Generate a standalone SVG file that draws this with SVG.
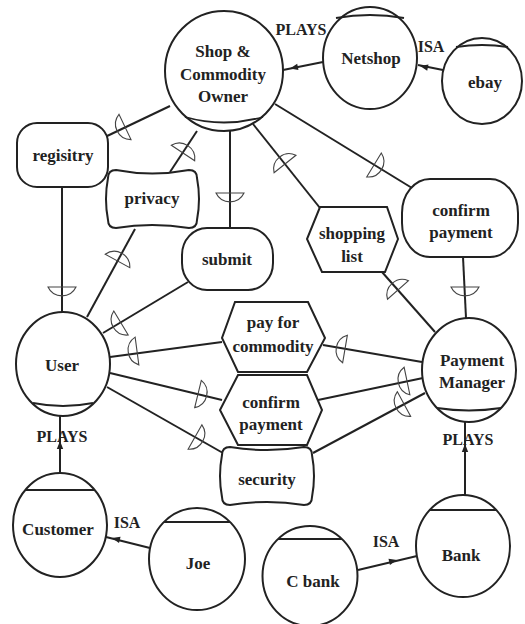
<svg xmlns="http://www.w3.org/2000/svg" xmlns:xlink="http://www.w3.org/1999/xlink" width="525" height="624" viewBox="0 0 525 624">
<style>
.s{fill:#fff;stroke:#222;stroke-width:2}
.ch{fill:none;stroke:#222;stroke-width:1.8}
.e{fill:none;stroke:#222;stroke-width:2}
.t{font-family:"Liberation Serif","Times New Roman",serif;font-weight:bold;font-size:17px;fill:#222;text-anchor:middle}
.l{font-family:"Liberation Serif","Times New Roman",serif;font-weight:bold;font-size:16px;fill:#222;text-anchor:middle}
.mk{fill:none;stroke:#444;stroke-width:1.1}
.ah{fill:#222;stroke:none}
</style>
<defs>
<path id="m" class="mk" d="M0,-14 A15.5,15.5 0 0 0 0,14 Z"/>
<path id="a" class="ah" d="M0,0 L-8,-3.2 L-8,3.2 Z"/>
</defs>
<rect width="525" height="624" fill="#fff"/>
<g id="connectors">
<line class="e" x1="323" y1="62" x2="283" y2="70"/>
<line class="e" x1="443" y1="70" x2="418" y2="65"/>
<line class="e" x1="170" y1="106" x2="105" y2="137"/>
<line class="e" x1="62" y1="187" x2="62" y2="312"/>
<line class="e" x1="197" y1="131" x2="170" y2="172"/>
<line class="e" x1="135" y1="229" x2="87" y2="317"/>
<line class="e" x1="230" y1="131" x2="230" y2="228"/>
<line class="e" x1="188" y1="282" x2="103" y2="333"/>
<line class="e" x1="253" y1="124" x2="320" y2="208"/>
<line class="e" x1="382" y1="272" x2="435" y2="332"/>
<line class="e" x1="275" y1="104" x2="412" y2="188"/>
<line class="e" x1="463" y1="257" x2="466" y2="318"/>
<line class="e" x1="110" y1="357" x2="222" y2="342"/>
<line class="e" x1="323" y1="345" x2="422" y2="362"/>
<line class="e" x1="110" y1="373" x2="222" y2="400"/>
<line class="e" x1="318" y1="400" x2="423" y2="378"/>
<line class="e" x1="107" y1="387" x2="230" y2="457"/>
<line class="e" x1="313" y1="453" x2="425" y2="393"/>
<line class="e" x1="60" y1="473" x2="60" y2="416"/>
<line class="e" x1="150" y1="548" x2="106" y2="537"/>
<line class="e" x1="358" y1="570" x2="417" y2="556"/>
<line class="e" x1="465" y1="495" x2="465" y2="422"/>
<use href="#a" transform="translate(290,68.5) rotate(168.7)"/>
<use href="#a" transform="translate(420,66) rotate(191.3)"/>
<use href="#a" transform="translate(60,441) rotate(-90)"/>
<use href="#a" transform="translate(112,538) rotate(194)"/>
<use href="#a" transform="translate(397,560) rotate(-13.3)"/>
<use href="#a" transform="translate(465,444) rotate(-90)"/>
<use href="#m" transform="translate(125,127) rotate(-25.5)"/>
<use href="#m" transform="translate(62,287) rotate(-90)"/>
<use href="#m" transform="translate(183,153) rotate(123.4)"/>
<use href="#m" transform="translate(117.5,261) rotate(118.6)"/>
<use href="#m" transform="translate(230,193) rotate(-90)"/>
<use href="#m" transform="translate(121,323) rotate(-31)"/>
<use href="#m" transform="translate(285,164) rotate(51.4)"/>
<use href="#m" transform="translate(398,290) rotate(48.5)"/>
<use href="#m" transform="translate(374,165) rotate(-148.5)"/>
<use href="#m" transform="translate(465,287) rotate(-90)"/>
<use href="#m" transform="translate(137,351) rotate(-7.6)"/>
<use href="#m" transform="translate(345,349) rotate(9.7)"/>
<use href="#m" transform="translate(198,394) rotate(-166.4)"/>
<use href="#m" transform="translate(407,381) rotate(-11.8)"/>
<use href="#m" transform="translate(195,437) rotate(-150.4)"/>
<use href="#m" transform="translate(404,404) rotate(-28.2)"/>
<text class="l" x="301" y="35">PLAYS</text>
<text class="l" x="431" y="52">ISA</text>
<text class="l" x="62" y="442">PLAYS</text>
<text class="l" x="127" y="528">ISA</text>
<text class="l" x="386" y="547">ISA</text>
<text class="l" x="468" y="445">PLAYS</text>
</g>
<g id="shop">
<ellipse class="s" cx="224" cy="71" rx="59" ry="60"/>
<path class="ch" d="M185,117 Q224,128 263,117"/>
<text class="t" x="223" y="57">Shop &amp;</text>
<text class="t" x="223" y="80">Commodity</text>
<text class="t" x="223" y="102">Owner</text>
</g>
<g id="netshop">
<ellipse class="s" cx="370" cy="58" rx="47" ry="51"/>
<path class="ch" d="M336,18 Q370,12 404,18"/>
<text class="t" x="371" y="64">Netshop</text>
</g>
<g id="ebay">
<ellipse class="s" cx="482" cy="81" rx="40" ry="43"/>
<path class="ch" d="M456,47 Q482,43 508,47"/>
<text class="t" x="485" y="88">ebay</text>
</g>
<g id="registry">
<rect class="s" x="17" y="123" width="91" height="64" rx="20" ry="20"/>
<text class="t" x="63" y="161">regisitry</text>
</g>
<g id="privacy">
<path class="s" d="M116,170 Q152,177 189,170 Q197,170 197,178 Q201,199 197,220 Q197,228 189,228 Q152,222 116,228 Q108,228 108,220 Q104,199 108,178 Q108,170 116,170 Z"/>
<text class="t" x="152" y="204">privacy</text>
</g>
<g id="submit">
<rect class="s" x="182" y="228" width="91" height="62" rx="25" ry="27"/>
<text class="t" x="227" y="265">submit</text>
</g>
<g id="shopping-list">
<path class="s" d="M320,207 L387,207 L398,239 L385,272 L322,272 L307,239 Z"/>
<text class="t" x="352" y="239">shopping</text>
<text class="t" x="352" y="262">list</text>
</g>
<g id="confirm-payment-top">
<rect class="s" x="402" y="179" width="116" height="78" rx="28" ry="34"/>
<text class="t" x="461" y="216">confirm</text>
<text class="t" x="461" y="238">payment</text>
</g>
<g id="user">
<ellipse class="s" cx="63" cy="364" rx="47" ry="52"/>
<path class="ch" d="M33,403 Q63,409 93,403"/>
<text class="t" x="62" y="371">User</text>
</g>
<g id="payment-manager">
<ellipse class="s" cx="469" cy="370" rx="47" ry="52"/>
<path class="ch" d="M437,408 Q469,413 501,408"/>
<text class="t" x="472" y="366">Payment</text>
<text class="t" x="472" y="388">Manager</text>
</g>
<g id="pay-for-commodity">
<path class="s" d="M235,302 L308,302 L325,338 L307,372 L238,372 L222,338 Z"/>
<text class="t" x="273" y="328">pay for</text>
<text class="t" x="273" y="352">commodity</text>
</g>
<g id="confirm-payment-mid">
<path class="s" d="M238,375 L307,375 L322,410 L307,445 L238,445 L220,410 Z"/>
<text class="t" x="271" y="408">confirm</text>
<text class="t" x="271" y="430">payment</text>
</g>
<g id="security">
<path class="s" d="M230,447 Q267,453 304,447 Q312,447 312,455 Q316,476 312,497 Q312,505 304,505 Q267,499 230,505 Q222,505 222,497 Q218,476 222,455 Q222,447 230,447 Z"/>
<text class="t" x="267" y="485">security</text>
</g>
<g id="customer">
<ellipse class="s" cx="60" cy="525" rx="47" ry="52"/>
<path class="ch" d="M25,490 L95,490"/>
<text class="t" x="58" y="535">Customer</text>
</g>
<g id="joe">
<ellipse class="s" cx="197" cy="559" rx="48" ry="51"/>
<path class="ch" d="M164,522 L230,522"/>
<text class="t" x="198" y="569">Joe</text>
</g>
<g id="c-bank">
<ellipse class="s" cx="310" cy="576" rx="47.5" ry="50"/>
<path class="ch" d="M278,539 L342,539"/>
<text class="t" x="313" y="587">C bank</text>
</g>
<g id="bank">
<ellipse class="s" cx="463" cy="546" rx="47" ry="51"/>
<path class="ch" d="M430,510 L496,510"/>
<text class="t" x="461" y="561">Bank</text>
</g>
</svg>
